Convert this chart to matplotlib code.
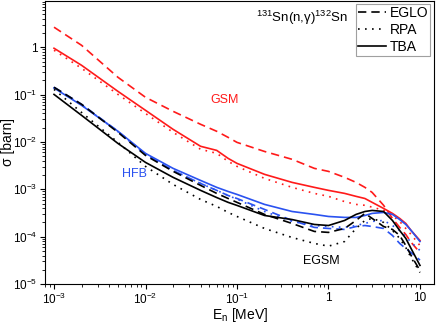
import math
import matplotlib as mpl
mpl.use('Agg')
import matplotlib.pyplot as plt
from matplotlib.ticker import FixedLocator, LogLocator, FuncFormatter, NullFormatter
from matplotlib.lines import Line2D

plt.rcParams['font.family'] = ['Liberation Sans', 'DejaVu Sans']
plt.rcParams['mathtext.default'] = 'regular'

# neutron energy grid (MeV)
E = [1e-3, 2e-3, 5e-3, 0.01, 0.02, 0.04, 0.06, 0.08, 0.1, 0.2, 0.4, 0.7,
     1, 1.5, 2, 2.5, 3, 4, 5, 6, 7, 8, 10]

# GSM (red)
gsm_eglo = [2.65, 1.10, 0.232, 0.0877, 0.0444, 0.0236, 0.0168, 0.0125, 0.0098,
            0.0063, 0.0043, 0.00277, 0.00239, 0.00179, 0.0014, 0.0011, 8.6e-4,
            4.6e-4, 2.43e-4, 1.57e-4, 1.11e-4, 7.6e-5, 4.6e-5]
gsm_rpa = [0.865, 0.36, 0.101, 0.040, 0.016, 0.007, 0.00575, 0.0039, 0.00305,
           0.0017, 0.0011, 8.2e-4, 7.1e-4, 5.5e-4, 4.8e-4, 4.6e-4, 4.2e-4,
           3.6e-4, 2.8e-4, 2.1e-4, 1.49e-4, 1.11e-4, 6.5e-5]
gsm_tba = [0.953, 0.416, 0.117, 0.0466, 0.0185, 0.0081, 0.00664, 0.0045, 0.00353,
           0.00207, 0.0014, 0.0011, 9.5e-4, 8.2e-4, 7.1e-4, 6.4e-4, 5.3e-4,
           3.95e-4, 3.1e-4, 2.43e-4, 1.9e-4, 1.35e-4, 8.3e-5]

# HFB (blue)
hfb_eglo = [0.143, 0.0624, 0.0168, 0.00547, 0.0025, 0.00133, 9.5e-4, 7.4e-4, 6.4e-4,
            3.76e-4, 2.2e-4, 1.57e-4, 1.49e-4, 1.42e-4, 1.64e-4, 1.72e-4, 1.64e-4,
            1.49e-4, 1.06e-4, 7.2e-5, 5.6e-5, 4.6e-5, 3.2e-5]
hfb_rpa = [0.14, 0.061, 0.0165, 0.0054, 0.0025, 0.00133, 9.5e-4, 7.4e-4, 6.2e-4,
           3.4e-4, 2.1e-4, 1.72e-4, 1.64e-4, 1.57e-4, 1.72e-4, 1.9e-4, 2.1e-4,
           2.2e-4, 1.72e-4, 1.35e-4, 1.01e-4, 7.6e-5, 5.1e-5]
hfb_tba = [0.138, 0.0594, 0.0168, 0.00574, 0.00277, 0.00154, 0.0011, 9.0e-4, 7.8e-4,
           4.8e-4, 3.4e-4, 2.95e-4, 2.67e-4, 2.55e-4, 2.55e-4, 2.8e-4, 3.1e-4,
           3.25e-4, 2.95e-4, 2.3e-4, 1.81e-4, 1.35e-4, 7.9e-5]

# EGSM (black)
egsm_eglo = [0.143, 0.0624, 0.016, 0.0052, 0.0024, 0.00121, 8.2e-4, 6.4e-4, 5.3e-4,
             2.95e-4, 1.9e-4, 1.29e-4, 1.23e-4, 1.49e-4, 2.2e-4, 3.1e-4, 2.43e-4,
             1.64e-4, 1.42e-4, 1.06e-4, 6.5e-5, 4.0e-5, 1.93e-5]
egsm_rpa = [0.129, 0.042, 0.0098, 0.00305, 0.00127, 6.1e-4, 4.36e-4, 3.25e-4, 2.67e-4,
            1.49e-4, 9.6e-5, 7.2e-5, 6.3e-5, 7.9e-5, 1.49e-4, 2.2e-4, 2.43e-4,
            2.0e-4, 1.35e-4, 9.2e-5, 5.9e-5, 3.6e-5, 1.75e-5]
egsm_tba = [0.101, 0.0365, 0.0093, 0.0037, 0.00179, 9.5e-4, 6.7e-4, 5.3e-4, 4.57e-4,
            2.8e-4, 2.3e-4, 1.81e-4, 1.72e-4, 2.2e-4, 2.95e-4, 3.4e-4, 3.58e-4,
            3.4e-4, 2.2e-4, 1.35e-4, 9.2e-5, 5.6e-5, 2.47e-5]

RED = '#ff1a1a'
BLUE = '#2a52f0'
DASH = (0, (5, 3))
DOT = (0, (1, 3.2))

fig = plt.figure(figsize=(4.36, 3.23), dpi=100)
ax = fig.add_axes([0.1032, 0.1207, 0.892, 0.877])

lw = 1.2
for col, (eglo, rpa, tba) in [(RED, (gsm_eglo, gsm_rpa, gsm_tba)),
                              (BLUE, (hfb_eglo, hfb_rpa, hfb_tba)),
                              ('black', (egsm_eglo, egsm_rpa, egsm_tba))]:
    ax.plot(E, eglo, color=col, lw=lw, ls=DASH)
    ax.plot(E, rpa, color=col, lw=lw, ls=DOT)
    ax.plot(E, tba, color=col, lw=lw, ls='-')

ax.set_xscale('log')
ax.set_yscale('log')
ax.set_xlim(7.97e-4, 14.2)
ax.set_ylim(1e-5, 9.6)


def fmt(v, pos):
    if abs(v - 1) < 1e-9:
        return '1'
    if abs(v - 10) < 1e-9:
        return '10'
    return r'$10^{%d}$' % round(math.log10(v))


ax.xaxis.set_major_locator(FixedLocator([1e-3, 1e-2, 1e-1, 1, 10]))
ax.yaxis.set_major_locator(FixedLocator([1e-5, 1e-4, 1e-3, 1e-2, 1e-1, 1]))
ax.xaxis.set_major_formatter(FuncFormatter(fmt))
ax.yaxis.set_major_formatter(FuncFormatter(fmt))
for a in (ax.xaxis, ax.yaxis):
    a.set_minor_locator(LogLocator(base=10, subs=range(2, 10), numticks=20))
    a.set_minor_formatter(NullFormatter())
ax.tick_params(which='both', direction='out', labelsize=8.5, top=False, right=False)
ax.tick_params(which='major', length=3.5, width=0.8, pad=2)
ax.tick_params(which='minor', length=2, width=0.6)

ax.set_xlabel('E$_n$ [MeV]', fontsize=10)
ax.set_ylabel('σ [barn]', fontsize=10)
ax.xaxis.set_label_coords(0.501, -0.079)
ax.yaxis.set_label_coords(-0.076, 0.5)

ax.text(0.0507, 0.065, 'GSM', color=RED, fontsize=9)
ax.text(0.0055, 0.00179, 'HFB', color=BLUE, fontsize=9)
ax.text(0.52, 2.6e-5, 'EGSM', color='black', fontsize=9)

handles = [Line2D([], [], color='black', lw=lw, ls=DASH),
           Line2D([], [], color='black', lw=lw, ls=DOT),
           Line2D([], [], color='black', lw=lw, ls='-')]
leg = ax.legend(handles, ['EGLO', 'RPA', 'TBA'], loc='upper right', fontsize=10,
                frameon=True, fancybox=False, edgecolor='#888888',
                handlelength=2.0, handletextpad=0.25, borderpad=0.15,
                labelspacing=0.2, borderaxespad=0.25)
leg.get_frame().set_linewidth(0.8)
ax.text(0.778, 0.926, r'$^{131}$Sn(n,γ)$^{132}$Sn', transform=ax.transAxes,
        ha='right', va='baseline', fontsize=9.5)

fig.savefig('out.png', dpi=100)
